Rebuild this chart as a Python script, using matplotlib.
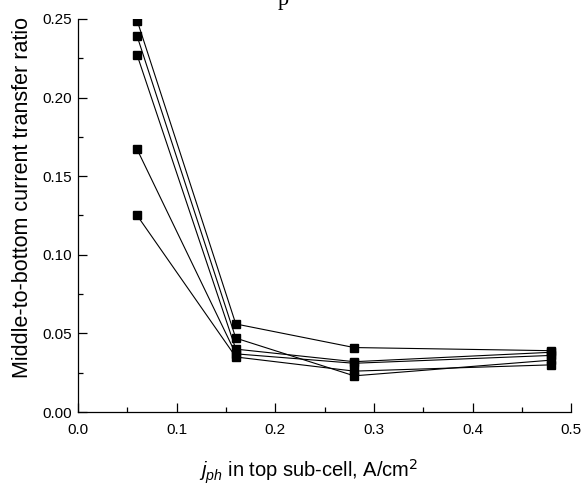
import matplotlib
matplotlib.use("Agg")
import matplotlib.pyplot as plt
from matplotlib.ticker import MultipleLocator

plt.rcParams['font.family'] = ['Liberation Sans', 'DejaVu Sans']
plt.rcParams['mathtext.fontset'] = 'custom'
plt.rcParams['mathtext.rm'] = 'Liberation Sans'
plt.rcParams['mathtext.it'] = 'Liberation Sans:italic'

# photocurrent density in the top sub-cell, A/cm^2
jph = [0.06, 0.16, 0.28, 0.48]

# middle-to-bottom current transfer ratio, one list per curve
ratio_1 = [0.249, 0.056, 0.041, 0.039]
ratio_2 = [0.239, 0.047, 0.023, 0.033]
ratio_3 = [0.227, 0.040, 0.032, 0.038]
ratio_4 = [0.167, 0.037, 0.031, 0.036]
ratio_5 = [0.125, 0.035, 0.026, 0.030]
curves = [ratio_1, ratio_2, ratio_3, ratio_4, ratio_5]

fig = plt.figure(figsize=(5.85, 4.87), dpi=100)
ax = fig.add_axes([0.1333, 0.154, 0.843, 0.807])

for r in curves:
    ax.plot(jph, r, color='black', lw=0.8, marker='s', ms=6,
            mfc='black', mec='black')

ax.set_xlim(0.0, 0.5)
ax.set_ylim(0.0, 0.25)
ax.xaxis.set_major_locator(MultipleLocator(0.1))
ax.xaxis.set_minor_locator(MultipleLocator(0.05))
ax.yaxis.set_major_locator(MultipleLocator(0.05))
ax.yaxis.set_minor_locator(MultipleLocator(0.025))
ax.xaxis.set_major_formatter(plt.FormatStrFormatter('%.1f'))
ax.yaxis.set_major_formatter(plt.FormatStrFormatter('%.2f'))

for side in ['top', 'right']:
    ax.spines[side].set_visible(False)
for side in ['left', 'bottom']:
    ax.spines[side].set_linewidth(0.9)

ax.tick_params(which='major', direction='in', length=6.5, width=0.9,
               labelsize=11)
ax.tick_params(which='minor', direction='in', length=3.5, width=0.9)
ax.tick_params(axis='x', pad=8)
ax.tick_params(axis='y', pad=4)

ax.set_ylabel('Middle-to-bottom current transfer ratio', fontsize=15.5)
ax.yaxis.set_label_coords(-0.092, 0.545)
ax.set_xlabel(r'$j_{ph}$ in top sub-cell, A/cm$^{\mathsf{2}}$', fontsize=14.5)
ax.xaxis.set_label_coords(0.467, -0.115)

# remnant of the heading above the plot
fig.text(278 / 585, 1 - 5 / 487, 'p', family='Liberation Serif',
         fontsize=16, va='baseline', ha='left')

fig.savefig('out.png', dpi=100)
